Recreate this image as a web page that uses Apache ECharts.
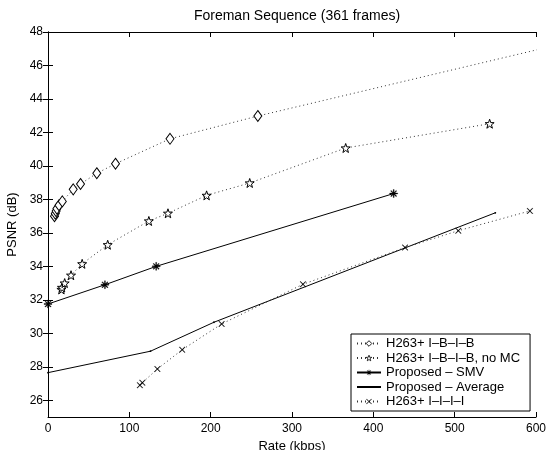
<!DOCTYPE html>
<html><head><meta charset="utf-8">
<script src="https://cdn.jsdelivr.net/npm/echarts@6/dist/echarts.min.js"></script>
<style>html,body{margin:0;padding:0;background:#fff}#c{width:547px;height:450px}</style>
</head><body><div id="c"></div>
<script>
// ---- data ----
const titleText = 'Foreman Sequence (361 frames)';
const xName = 'Rate (kbps)';
const yName = 'PSNR (dB)';
const yTicks = [26, 28, 30, 32, 34, 36, 38, 40, 42, 44, 46, 48];
const names = ['H263+ I\u2013B\u2013I\u2013B', 'H263+ I\u2013B\u2013I\u2013B, no MC', 'Proposed \u2013 SMV', 'Proposed \u2013 Average', 'H263+ I\u2013I\u2013I\u2013I'];
const ibibRate = [8, 9, 10, 11, 13.5, 17.6, 31, 40, 60, 83, 150, 258, 650];
const ibibPsnr = [37.0, 37.15, 37.3, 37.45, 37.65, 37.88, 38.6, 38.92, 39.56, 40.13, 41.62, 42.98, 47.5];
const nomcRate = [16.5, 17.2, 20.5, 28.3, 42, 73.4, 124, 147.5, 195, 248, 366, 543];
const nomcPsnr = [32.62, 32.74, 33.0, 33.47, 34.15, 35.29, 36.71, 37.17, 38.24, 38.98, 41.07, 42.52];
const smvRate = [0, 70, 133, 425];
const smvPsnr = [31.75, 32.9, 34.0, 38.35];
const avgRate = [0, 126, 204, 550];
const avgPsnr = [27.65, 28.93, 30.66, 37.2];
const iiiiRate = [113, 116, 134.5, 165, 213.5, 313.5, 439, 504.5, 592.5];
const iiiiPsnr = [26.9, 27.05, 27.87, 29.02, 30.56, 32.93, 35.12, 36.13, 37.31];

const zip = (a, b) => a.map((v, i) => [v, b[i]]);

const starPath = 'path://M0,-10 L2.35,-3.24 L9.51,-3.09 L3.8,1.24 L5.88,8.09 L0,4 L-5.88,8.09 L-3.8,1.24 L-9.51,-3.09 L-2.35,-3.24 Z';
const astPath = 'path://M-0.6,-5 L0.6,-5 L0.6,5 L-0.6,5 Z M-5,-0.6 L5,-0.6 L5,0.6 L-5,0.6 Z M-3.9,-3.1 L-3.1,-3.9 L3.9,3.1 L3.1,3.9 Z M3.1,-3.9 L3.9,-3.1 L-3.1,3.9 L-3.9,3.1 Z';
const xPath = 'path://M-5,-4.2 L-4.2,-5 L5,4.2 L4.2,5 Z M4.2,-5 L5,-4.2 L-4.2,5 L-5,4.2 Z';
const dotPath = 'path://M-6,-6 L-6,-5.99 M6,6 L6,5.99 M-0.9,0 A0.9,0.9 0 1 1 0.9,0 A0.9,0.9 0 1 1 -0.9,0 Z';

const font = 'Liberation Sans, Arial, sans-serif';
const dotted = { color: '#333', width: 1, type: [1, 3] };

const chart = echarts.init(document.getElementById('c'), null, { renderer: 'canvas' });
chart.setOption({
  animation: false,
  backgroundColor: '#fff',
  title: { text: titleText, left: 292, top: 4, textAlign: 'center',
    textStyle: { fontFamily: font, fontSize: 14, fontWeight: 'normal', color: '#000' } },
  grid: { left: 48, right: 11, top: 32, bottom: 33, outerBoundsMode: 'none', containLabel: false },
  legend: {
    orient: 'vertical', left: 351, top: 334,
    backgroundColor: '#fff', borderColor: '#000', borderWidth: 1, borderRadius: 0,
    padding: [3, 10, 3, 5], itemWidth: 24, itemHeight: 7, itemGap: 1.5,
    textStyle: { fontFamily: font, fontSize: 13, lineHeight: 13, color: '#000' },
    data: [
      { name: names[0], itemStyle: { borderWidth: 0.9 } },
      { name: names[1], itemStyle: { borderWidth: 0.8 } },
      { name: names[2], itemStyle: { borderWidth: 0 } },
      { name: names[3] },
      { name: names[4], itemStyle: { borderWidth: 0 } }
    ]
  },
  xAxis: [
    { type: 'value', min: 0, max: 600, interval: 100, position: 'bottom',
      name: xName, nameLocation: 'middle', nameGap: 20,
      nameTextStyle: { fontFamily: font, fontSize: 13, color: '#000' },
      axisLine: { show: true, lineStyle: { color: '#000', width: 1 } },
      axisTick: { show: true, inside: true, length: 5, lineStyle: { color: '#000' } },
      axisLabel: { fontFamily: font, fontSize: 12, color: '#000', margin: 6 },
      splitLine: { show: false } },
    { type: 'value', min: 0, max: 600, interval: 100, position: 'top',
      axisLine: { show: true, lineStyle: { color: '#000', width: 1 } },
      axisTick: { show: true, inside: true, length: 5, lineStyle: { color: '#000' } },
      axisLabel: { show: false }, splitLine: { show: false } }
  ],
  yAxis: [
    { type: 'value', min: 25, max: 48, position: 'left',
      name: yName, nameLocation: 'middle', nameGap: 28, nameRotate: 90,
      nameTextStyle: { fontFamily: font, fontSize: 13, color: '#000' },
      axisLine: { show: true, lineStyle: { color: '#000', width: 1 } },
      axisTick: { show: true, inside: true, length: 5, customValues: yTicks, lineStyle: { color: '#000' } },
      axisLabel: { fontFamily: font, fontSize: 12, color: '#000', margin: 5, customValues: yTicks },
      splitLine: { show: false } },
    { type: 'value', min: 25, max: 48, position: 'right',
      axisLine: { show: true, lineStyle: { color: '#000', width: 1 } },
      axisTick: { show: true, inside: true, length: 5, customValues: yTicks, lineStyle: { color: '#000' } },
      axisLabel: { show: false }, splitLine: { show: false } }
  ],
  series: [
    { name: names[0], type: 'line', data: zip(ibibRate, ibibPsnr), clip: true,
      symbol: 'diamond', symbolSize: [8, 11],
      itemStyle: { color: '#fff', borderColor: '#000', borderWidth: 1 },
      lineStyle: dotted },
    { name: names[1], type: 'line', data: zip(nomcRate, nomcPsnr), clip: true,
      symbol: starPath, symbolSize: 9,
      itemStyle: { color: '#fff', borderColor: '#000', borderWidth: 1 },
      lineStyle: dotted },
    { name: names[2], type: 'line', data: zip(smvRate, smvPsnr), clip: false,
      symbol: astPath, symbolSize: 8,
      itemStyle: { color: '#000', borderColor: '#000', borderWidth: 0.3 },
      lineStyle: { color: '#000', width: 1 } },
    { name: names[3], type: 'line', data: zip(avgRate, avgPsnr), clip: false,
      symbol: dotPath, symbolSize: 12,
      itemStyle: { color: '#000' },
      lineStyle: { color: '#000', width: 1 } },
    { name: names[4], type: 'line', data: zip(iiiiRate, iiiiPsnr), clip: true,
      symbol: xPath, symbolSize: 6,
      itemStyle: { color: '#000', borderColor: '#000', borderWidth: 0.2 },
      lineStyle: dotted }
  ]
});
</script></body></html>
